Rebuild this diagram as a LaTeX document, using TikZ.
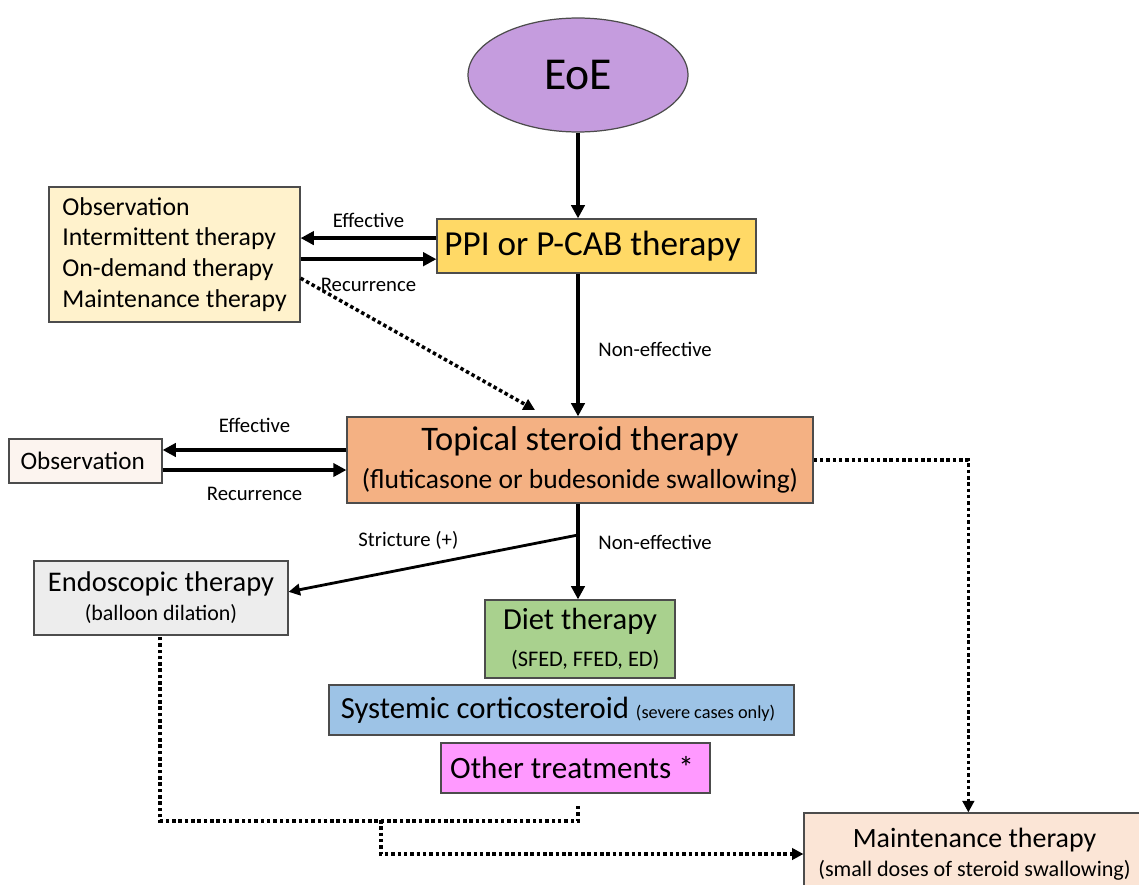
\documentclass[tikz,border=0pt]{standalone}
\usepackage{fontspec}
\setmainfont{Carlito}
\usepackage{tikz}
\usetikzlibrary{arrows.meta,shapes.geometric,positioning}

\definecolor{eoefill}{HTML}{C59CDE}
\definecolor{ppifill}{HTML}{FFD966}
\definecolor{listfill}{HTML}{FFF2CC}
\definecolor{topfill}{HTML}{F4B183}
\definecolor{obsfill}{HTML}{FCF4EF}
\definecolor{endofill}{HTML}{EDEDED}
\definecolor{dietfill}{HTML}{A9D18E}
\definecolor{sysfill}{HTML}{9DC3E6}
\definecolor{otherfill}{HTML}{FF99FF}
\definecolor{maintfill}{HTML}{FBE5D6}

\begin{document}
\begin{tikzpicture}[x=0.02cm,y=-0.02cm,
    box/.style={draw=black!70, line width=0.7pt, rectangle, inner sep=0pt, align=center},
    lbl/.style={inner sep=0pt, font=\fontsize{11.8}{14}\selectfont},
    arr/.style={-{Triangle[length=7.5pt,width=7.5pt]}, line width=2.2pt},
    thinarr/.style={-{Triangle[length=6.5pt,width=6.5pt]}, line width=1.6pt},
    dots/.style={line width=2pt, dash pattern=on 2pt off 1.6pt},
    dotarr/.style={dots, -{Triangle[length=6.5pt,width=6.5pt]}}]

    \useasboundingbox (0,0) rectangle (1139,885);
    \clip (0,0) rectangle (1139,885);

    \node[ellipse, draw=black!70, line width=0.7pt, fill=eoefill, minimum width=4.4cm, minimum height=2.28cm,
          font=\fontsize{26}{30}\selectfont] (EoE) at (578,75)
    { EoE };

    \node[box, fill=ppifill, minimum width=6.38cm, minimum height=1.08cm,
          font=\fontsize{20}{23}\selectfont] (PPI) at (596.5,246)
    { PPI or P-CAB therapy };

    \node[box, fill=listfill, align=left, minimum width=5.02cm, minimum height=2.7cm,
          font=\fontsize{14.65}{17.5}\selectfont] (list) at (174.5,254.5)
    { Observation\\ Intermittent therapy\\ On-demand therapy\\ Maintenance therapy };

    %------------------------------------------------

    \node[box, fill=topfill, minimum width=9.32cm, minimum height=1.72cm,
          font=\fontsize{15.65}{21.5}\selectfont] (top) at (580,460)
    { {\fontsize{19.6}{21.5}\selectfont Topical steroid therapy}\\ (fluticasone or budesonide swallowing) };

    \node[box, fill=obsfill, minimum width=3.06cm, minimum height=0.88cm,
          font=\fontsize{14.3}{17}\selectfont] (obs) at (85.5,461)
    { Observation };

    \node[box, fill=endofill, minimum width=5.08cm, minimum height=1.48cm,
          font=\fontsize{12.5}{16.4}\selectfont] (endo) at (161,598)
    { {\fontsize{16.2}{16.4}\selectfont Endoscopic therapy}\\ (balloon dilation) };

    %------------------------------------------------

    \node[box, fill=dietfill, minimum width=3.8cm, minimum height=1.56cm,
          font=\fontsize{12.7}{21}\selectfont] (diet) at (580,639)
    { {\fontsize{17.4}{21}\selectfont Diet therapy}\\ \hspace*{6pt}(SFED, FFED, ED) };

    \node[box, fill=sysfill, minimum width=9.3cm, minimum height=1.0cm,
          font=\fontsize{17.5}{20}\selectfont] (sys) at (561.5,710)
    { Systemic corticosteroid {\fontsize{10.4}{12}\selectfont (severe cases only)} };

    \node[box, fill=otherfill, minimum width=5.38cm, minimum height=1.0cm,
          font=\fontsize{17.7}{20}\selectfont] (other) at (575.5,768)
    { Other treatments * };

    \node[box, fill=maintfill, minimum width=6.82cm, minimum height=1.64cm,
          font=\fontsize{12.6}{16.4}\selectfont] (maint) at (974.5,854)
    { {\fontsize{15.9}{16.4}\selectfont Maintenance therapy}\\ (small doses of steroid swallowing) };

    %------------------------------------------------

    \coordinate (spine) at (578,0);
    \coordinate (effA) at ([yshift=4.5pt]PPI.west);
    \coordinate (recA) at ([yshift=-7.5pt]PPI.west);
    \coordinate (effB) at ([yshift=5.7pt]top.west);
    \coordinate (recB) at ([yshift=-5.7pt]top.west);
    \coordinate (dotstart) at ([yshift=-13.5pt]list.east);
    \coordinate (dotend) at (535,410);
    \coordinate (branch) at (578,535);
    \coordinate (otherend) at ([yshift=-7pt]other.south -| spine);
    \coordinate (join) at (381,820);

    \path[arr]
    {
        (EoE.south) edge (EoE.south |- PPI.north)
        (PPI.south -| spine) edge node[lbl, right=10.5pt, pos=0.53] {Non-effective} (spine |- top.north)
        (effA) edge node[lbl, above=5pt] {Effective} (effA -| list.east)
        (recA -| list.east) edge node[lbl, below=9.5pt] {Recurrence} (recA)
        (effB) edge node[lbl, above=8.5pt] {Effective} (effB -| obs.east)
        (recB -| obs.east) edge node[lbl, below=8.5pt] {Recurrence} (recB)
        (top.south -| spine) edge node[lbl, right=10.5pt, pos=0.41] {Non-effective} (spine |- diet.north)
    };

    \draw[thinarr] (branch) -- node[lbl, above=10pt, pos=0.586] {Stricture (+)} ([yshift=3.5pt]endo.east);

    \draw[dotarr] (dotstart) -- (dotend);
    \draw[dotarr] (top.east) -| ([xshift=-3.5pt]maint.north);
    \draw[dots] (otherend) -- ++(0,15) -| (endo.south -| 160,0);
    \draw[dotarr] (join) |- (maint.west);
\end{tikzpicture}
\end{document}
